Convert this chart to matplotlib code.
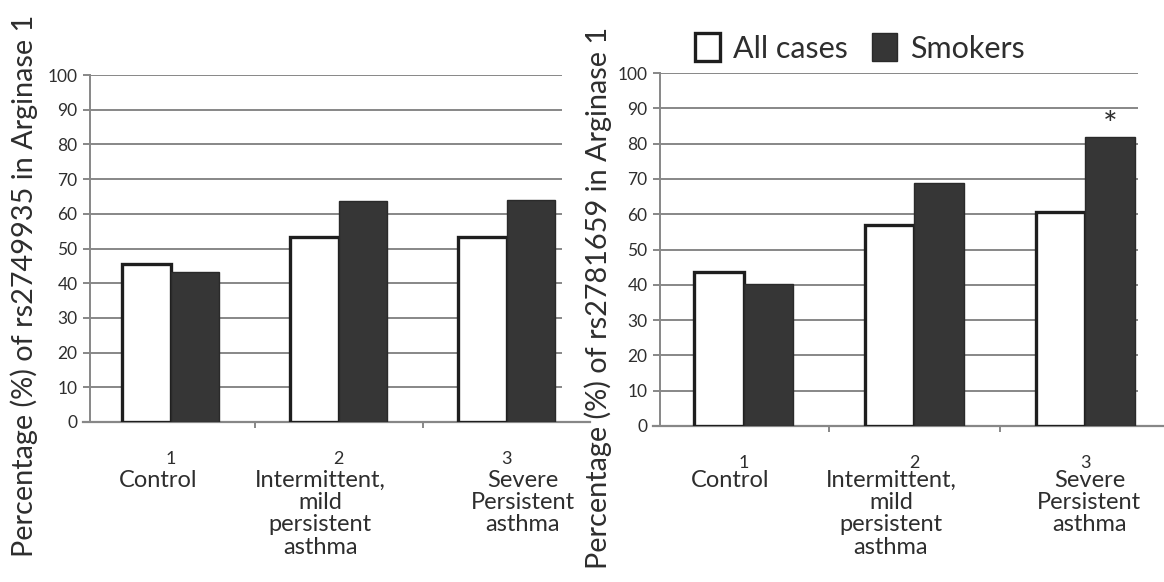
import matplotlib
matplotlib.use("Agg")
import matplotlib.pyplot as plt
import matplotlib.transforms as mtransforms

plt.rcParams['font.family'] = ['Lato', 'DejaVu Sans']

# data
cat_numbers = ['1', '2', '3']
categories = ['Control', 'Intermittent,\nmild\npersistent\nasthma', 'Severe\nPersistent\nasthma']
left_all = [45.6, 53.4, 53.4]
left_smokers = [43.2, 63.6, 64.1]
right_all = [43.6, 56.8, 60.5]
right_smokers = [40.2, 68.8, 82.0]
left_ylabel = 'Percentage (%) of rs2749935 in Arginase 1'
right_ylabel = 'Percentage (%) of rs2781659 in Arginase 1'
legend_labels = ['All cases', 'Smokers']

GRID = '#878787'
DARK = '#363636'
TEXT = '#2e2e2e'
W, H = 1164, 582


def draw_panel(ax, all_vals, smk_vals, xlim, name_shift, base_end):
    idx = range(len(all_vals))
    bw = 0.29
    b1 = ax.bar([i - bw / 2 for i in idx], all_vals, bw, color='white',
                edgecolor='#1e1e1e', linewidth=2.4, zorder=3, label=legend_labels[0])
    b2 = ax.bar([i + bw / 2 for i in idx], smk_vals, bw, color=DARK,
                edgecolor='#2a2a2a', linewidth=1.0, zorder=3, label=legend_labels[1])

    ax.set_ylim(0, 100)
    ax.set_xlim(*xlim)
    ax.set_yticks(range(0, 101, 10))
    ax.yaxis.grid(True, color=GRID, linewidth=1.4, zorder=0)
    ax.set_axisbelow(True)
    for s in ['top', 'right', 'bottom']:
        ax.spines[s].set_visible(False)
    ax.spines['left'].set_color(GRID)
    ax.spines['left'].set_linewidth(1.4)
    ax.tick_params(axis='y', colors=GRID, length=5, width=1.4, pad=4,
                   labelsize=12.5, labelcolor=TEXT)

    # baseline runs a bit past the plot area
    ax.plot([-0.015, base_end], [0, 0], transform=ax.transAxes,
            color=GRID, linewidth=1.6, clip_on=False, zorder=2)

    ax.set_xticks(list(idx))
    ax.set_xticklabels(cat_numbers)
    ax.set_xticks([0.5, 1.5], minor=True)
    ax.tick_params(axis='x', which='major', length=0, pad=21, labelsize=13, labelcolor=TEXT)
    ax.tick_params(axis='x', which='minor', length=4, width=1.4, color=GRID)

    trans = mtransforms.blended_transform_factory(ax.transData, ax.figure.transFigure)
    for i, name in enumerate(categories):
        ax.text(i + name_shift[i], 1 - 470 / H, name, transform=trans, ha='center', va='top',
                fontsize=17, color=TEXT, linespacing=1.07)
    return b1, b2


fig = plt.figure(figsize=(W / 100, H / 100), dpi=100)
ax1 = fig.add_axes([90 / W, 1 - 422 / H, (562 - 90) / W, (422 - 75) / H])
ax2 = fig.add_axes([660 / W, 1 - 426 / H, (1138 - 660) / W, (426 - 73) / H])

draw_panel(ax1, left_all, left_smokers, (-0.48, 2.33), [-0.074, -0.11, 0.096], 1.06)
bars = draw_panel(ax2, right_all, right_smokers, (-0.49, 2.31), [-0.08, -0.137, 0.025], 1.06)

ax2.text(2 + 0.145, 85, '*', ha='center', va='center', fontsize=25, color=TEXT)

fig.text(24 / W, 1 - 286 / H, left_ylabel, rotation=90, ha='center', va='center',
         fontsize=20.8, color=TEXT)
fig.text(598 / W, 1 - 298 / H, right_ylabel, rotation=90, ha='center', va='center',
         fontsize=20.8, color=TEXT)

fig.legend(bars, legend_labels, loc='center left', bbox_to_anchor=(695 / W, 1 - 48 / H),
           ncol=2, frameon=False, fontsize=22, handlelength=0.82, handleheight=1.0,
           handletextpad=0.42, columnspacing=0.8, borderpad=0, borderaxespad=0,
           labelcolor=TEXT)

fig.savefig('out.png', dpi=100)
